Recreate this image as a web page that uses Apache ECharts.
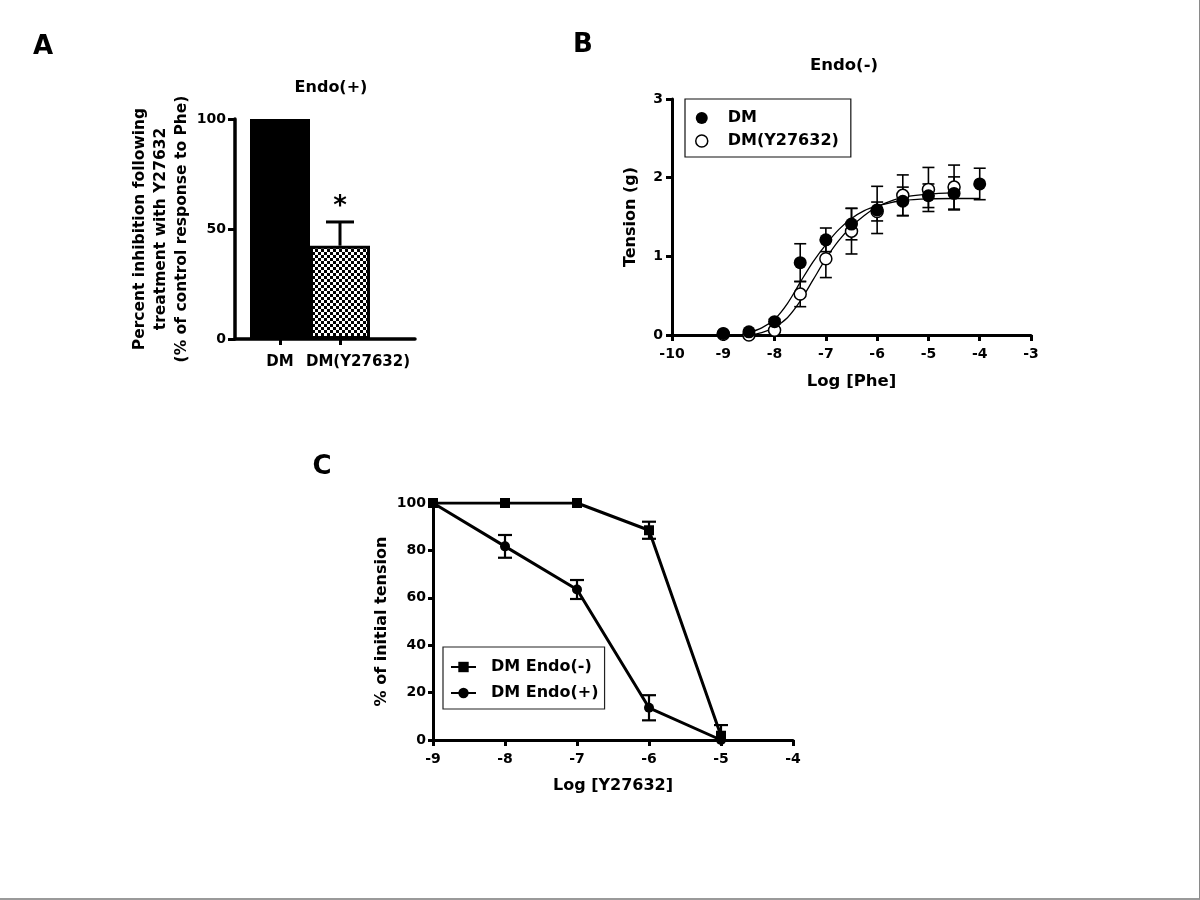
<!DOCTYPE html>
<html>
<head>
<meta charset="utf-8">
<script src="https://cdn.jsdelivr.net/npm/echarts@6/dist/echarts.min.js"></script>
<style>
html,body{margin:0;padding:0;background:#fff;}
#frame{position:absolute;left:0;top:0;width:1200px;height:900px;box-sizing:border-box;border-right:1px solid #8a8a8a;border-bottom:2px solid #9a9a9a;}
#c{position:absolute;left:0;top:0;width:1199px;height:898px;}
</style>
</head>
<body>
<div id="frame"><div id="c"></div></div>
<script>
// ---------- Panel A data ----------
const barCategories = ['DM', 'DM(Y27632)'];
const barValues = [100, 42.4];
const barErrors = [0, 10.8];
const barSignificance = ['', '*'];

// ---------- Panel B data (Log [Phe] vs tension, g) ----------
const pheDoseDM = [-9, -8.5, -8, -7.5, -7, -6.5, -6, -5.5, -5, -4.5, -4];
const tensionDM = [0.02, 0.04, 0.17, 0.92, 1.21, 1.41, 1.59, 1.70, 1.77, 1.80, 1.92];
const tensionDMErr = [0.01, 0.02, 0.03, 0.24, 0.15, 0.20, 0.30, 0.18, 0.15, 0.21, 0.20];
const pheDoseY = [-9, -8.5, -8, -7.5, -7, -6.5, -6, -5.5, -5, -4.5];
const tensionY = [0.01, 0.00, 0.06, 0.52, 0.97, 1.32, 1.57, 1.775, 1.85, 1.88];
const tensionYErr = [0.01, 0.01, 0.02, 0.16, 0.24, 0.29, 0.12, 0.26, 0.28, 0.28];
// fitted curves
const fitDoseDM = [-8.5, -8.25, -8, -7.75, -7.5, -7.25, -7, -6.75, -6.5, -6.25, -6, -5.75, -5.5, -5, -4.5, -4];
const fitDM = [0.03, 0.09, 0.20, 0.40, 0.67, 0.93, 1.15, 1.34, 1.48, 1.58, 1.64, 1.68, 1.71, 1.73, 1.735, 1.735];
const fitDoseY = [-8.5, -8.25, -8, -7.75, -7.5, -7.25, -7, -6.75, -6.5, -6.25, -6, -5.75, -5.5, -5, -4.5];
const fitY = [0.00, 0.03, 0.10, 0.22, 0.43, 0.70, 0.97, 1.20, 1.38, 1.52, 1.63, 1.70, 1.75, 1.79, 1.81];

// ---------- Panel C data (Log [Y27632] vs % of initial tension) ----------
const y27Dose = [-9, -8, -7, -6, -5];
const endoMinus = [100, 100, 100, 88.5, 1.8];
const endoMinusErr = [0, 0, 0, 3.6, 4.5];
const endoPlus = [100, 81.7, 63.5, 13.6, 0];
const endoPlusErr = [0, 4.8, 4.0, 5.3, 0];

const FONT = 'DejaVu Sans';
const zip = (xs, ys) => xs.map((x, i) => [x, ys[i]]);
const zip3 = (xs, ys, es) => xs.map((x, i) => [x, ys[i], es[i]]);

// checkerboard fill for the treated bar
const pat = document.createElement('canvas');
pat.width = 6; pat.height = 6;
const pg = pat.getContext('2d');
pg.fillStyle = '#fff'; pg.fillRect(0, 0, 6, 6);
pg.fillStyle = '#000'; pg.fillRect(0, 0, 3, 3); pg.fillRect(3, 3, 3, 3);

function errorBars(capHalf, lw, upperOnly, marks) {
  return function (params, api) {
    const x = api.value(0), y = api.value(1), e = api.value(2);
    const children = [];
    const st = { stroke: '#000', lineWidth: lw };
    const top = api.coord([x, y + e]);
    if (e > 0) {
      const bot = api.coord([x, upperOnly ? y : y - e]);
      children.push({ type: 'line', shape: { x1: top[0], y1: top[1], x2: bot[0], y2: bot[1] }, style: st });
      children.push({ type: 'line', shape: { x1: top[0] - capHalf, y1: top[1], x2: top[0] + capHalf, y2: top[1] }, style: st });
      if (!upperOnly) {
        children.push({ type: 'line', shape: { x1: bot[0] - capHalf, y1: bot[1], x2: bot[0] + capHalf, y2: bot[1] }, style: st });
      }
    }
    if (marks && marks[params.dataIndex]) {
      children.push({ type: 'text', x: top[0], y: top[1] - 2,
        style: { text: marks[params.dataIndex], fontSize: 26, fontWeight: 'bold', fontFamily: FONT,
                 fill: '#000', align: 'center', verticalAlign: 'bottom' } });
    }
    return { type: 'group', children };
  };
}

const lbl = (size, margin) => ({ show: true, color: '#000', fontFamily: FONT, fontWeight: 'bold', fontSize: size, margin: margin });
const line = w => ({ show: true, onZero: false, lineStyle: { color: '#000', width: w } });
const tick = (len, w) => ({ show: true, inside: false, length: len, lineStyle: { color: '#000', width: w } });
const nameStyle = (size) => ({ color: '#000', fontFamily: FONT, fontWeight: 'bold', fontSize: size });

const chart = echarts.init(document.getElementById('c'), null, { renderer: 'canvas' });

const option = {
  animation: false,
  backgroundColor: '#fff',
  textStyle: { fontFamily: FONT },
  graphic: [
    { type: 'text', x: 43, y: 47, style: { text: 'A', fontSize: 26, fontWeight: 'bold', fontFamily: FONT, fill: '#000', align: 'center', verticalAlign: 'middle' } },
    { type: 'text', x: 583, y: 45, style: { text: 'B', fontSize: 26, fontWeight: 'bold', fontFamily: FONT, fill: '#000', align: 'center', verticalAlign: 'middle' } },
    { type: 'text', x: 322, y: 467, style: { text: 'C', fontSize: 26, fontWeight: 'bold', fontFamily: FONT, fill: '#000', align: 'center', verticalAlign: 'middle' } },
    { type: 'text', x: 331, y: 88, style: { text: 'Endo(+)', fontSize: 16, fontWeight: 'bold', fontFamily: FONT, fill: '#000', align: 'center', verticalAlign: 'middle' } },
    { type: 'text', x: 844, y: 66, style: { text: 'Endo(-)', fontSize: 16.5, fontWeight: 'bold', fontFamily: FONT, fill: '#000', align: 'center', verticalAlign: 'middle' } }
  ],
  grid: [
    { left: 250, top: 119, width: 120, height: 220, outerBoundsMode: 'none' },
    { left: 235, top: 119, width: 180, height: 220, outerBoundsMode: 'none' },
    { left: 672, top: 99, width: 359, height: 236, outerBoundsMode: 'none' },
    { left: 433, top: 503, width: 360, height: 237, outerBoundsMode: 'none' }
  ],
  xAxis: [
    { gridIndex: 0, type: 'category', boundaryGap: true,
      data: barCategories.map((c, i) => i === 1 ? { value: c, textStyle: { padding: [0, 0, 0, 36] } } : c),
      axisLine: { show: false }, axisTick: Object.assign(tick(6, 3), { alignWithLabel: true, interval: 0 }),
      axisLabel: Object.assign(lbl(15, 16), { interval: 0, hideOverlap: false }), splitLine: { show: false } },
    { gridIndex: 1, type: 'value', min: 0, max: 1, axisLine: line(3.5), axisTick: { show: false },
      axisLabel: { show: false }, splitLine: { show: false } },
    { gridIndex: 2, type: 'value', min: -10, max: -3, interval: 1, axisLine: line(3), axisTick: tick(6, 3),
      axisLabel: lbl(14, 12), splitLine: { show: false },
      name: 'Log [Phe]', nameLocation: 'middle', nameGap: 38, nameTextStyle: nameStyle(16.5) },
    { gridIndex: 3, type: 'value', min: -9, max: -4, interval: 1, axisLine: line(3), axisTick: tick(6, 3),
      axisLabel: lbl(14, 12), splitLine: { show: false },
      name: 'Log [Y27632]', nameLocation: 'middle', nameGap: 38, nameTextStyle: nameStyle(16) }
  ],
  yAxis: [
    { gridIndex: 0, type: 'value', min: 0, max: 100, interval: 50, offset: 15,
      axisLine: line(3.5), axisTick: tick(7, 3), axisLabel: lbl(14, 9), splitLine: { show: false },
      name: 'Percent inhibition following\ntreatment with Y27632\n(% of control response to Phe)',
      nameLocation: 'middle', nameGap: 32,
      nameTextStyle: Object.assign(nameStyle(15.5), { lineHeight: 21 }) },
    { gridIndex: 1, type: 'value', min: 0, max: 1, show: false },
    { gridIndex: 2, type: 'value', min: 0, max: 3, interval: 1, axisLine: line(3), axisTick: tick(6, 3),
      axisLabel: lbl(14, 9), splitLine: { show: false },
      name: 'Tension (g)', nameLocation: 'middle', nameGap: 33, nameTextStyle: nameStyle(16) },
    { gridIndex: 3, type: 'value', min: 0, max: 100, interval: 20, axisLine: line(3), axisTick: tick(5, 3),
      axisLabel: lbl(14, 7), splitLine: { show: false },
      name: '% of initial tension', nameLocation: 'middle', nameGap: 43, nameTextStyle: nameStyle(16) }
  ],
  legend: [
    { show: true, orient: 'vertical', left: 685, top: 99, padding: [11, 12, 8, 10], itemGap: 7,
      itemWidth: 30, itemHeight: 12, borderColor: '#111', borderWidth: 1.2, backgroundColor: '#fff',
      selectedMode: false, textStyle: { color: '#000', fontFamily: FONT, fontWeight: 'bold', fontSize: 16, padding: [0, 0, 0, 6] },
      data: [
        { name: 'DM', icon: 'circle', itemStyle: { color: '#000', borderWidth: 0, opacity: 1 } },
        { name: 'DM(Y27632)', icon: 'circle', itemStyle: { color: '#fff', borderColor: '#000', borderWidth: 1.5, opacity: 1 } }
      ] },
    { show: true, orient: 'vertical', left: 443, top: 647, padding: [12, 6, 8, 7], itemGap: 10,
      itemWidth: 25, itemHeight: 13, borderColor: '#222', borderWidth: 1.2, backgroundColor: '#fff',
      selectedMode: false, textStyle: { color: '#000', fontFamily: FONT, fontWeight: 'bold', fontSize: 16, padding: [0, 0, 0, 10] },
      data: ['DM Endo(-)', 'DM Endo(+)'] }
  ],
  series: [
    // Panel A
    { type: 'bar', name: 'A bars', xAxisIndex: 0, yAxisIndex: 0, barWidth: '100%', barGap: '0%',
      data: barValues.map((v, i) => ({ value: v, itemStyle: i === 0
        ? { color: '#000' }
        : { color: { image: pat, repeat: 'repeat' }, borderColor: '#000', borderWidth: 3 } })) },
    { type: 'custom', name: 'A err', xAxisIndex: 0, yAxisIndex: 0, z: 5,
      renderItem: errorBars(14, 3, true, barSignificance),
      data: barCategories.map((c, i) => [i, barValues[i], barErrors[i]]) },
    // Panel B
    { type: 'line', name: 'DM fit', xAxisIndex: 2, yAxisIndex: 2, smooth: 0.3, symbol: 'none',
      lineStyle: { color: '#000', width: 1.3 }, data: zip(fitDoseDM, fitDM), z: 1 },
    { type: 'line', name: 'DM(Y27632) fit', xAxisIndex: 2, yAxisIndex: 2, smooth: 0.3, symbol: 'none',
      lineStyle: { color: '#000', width: 1.3 }, data: zip(fitDoseY, fitY), z: 1 },
    { type: 'custom', name: 'B err Y', xAxisIndex: 2, yAxisIndex: 2, z: 2,
      renderItem: errorBars(6, 1.6, false), data: zip3(pheDoseY, tensionY, tensionYErr) },
    { type: 'custom', name: 'B err DM', xAxisIndex: 2, yAxisIndex: 2, z: 2,
      renderItem: errorBars(6, 1.6, false), data: zip3(pheDoseDM, tensionDM, tensionDMErr) },
    { type: 'scatter', name: 'DM(Y27632)', xAxisIndex: 2, yAxisIndex: 2, symbol: 'circle', symbolSize: 12, z: 3,
      itemStyle: { color: '#fff', borderColor: '#000', borderWidth: 1.5, opacity: 1 }, data: zip(pheDoseY, tensionY) },
    { type: 'scatter', name: 'DM', xAxisIndex: 2, yAxisIndex: 2, symbol: 'circle', symbolSize: 13, z: 4,
      itemStyle: { color: '#000', opacity: 1 }, data: zip(pheDoseDM, tensionDM) },
    // Panel C
    { type: 'custom', name: 'C err plus', xAxisIndex: 3, yAxisIndex: 3, z: 2, clip: true,
      renderItem: errorBars(7, 2.2, false), data: zip3(y27Dose, endoPlus, endoPlusErr) },
    { type: 'custom', name: 'C err minus', xAxisIndex: 3, yAxisIndex: 3, z: 2, clip: true,
      renderItem: errorBars(7, 2.2, false), data: zip3(y27Dose, endoMinus, endoMinusErr) },
    { type: 'line', name: 'DM Endo(+)', xAxisIndex: 3, yAxisIndex: 3, symbol: 'circle', symbolSize: 10, z: 3,
      lineStyle: { color: '#000', width: 3 }, itemStyle: { color: '#000', opacity: 1 }, data: zip(y27Dose, endoPlus) },
    { type: 'line', name: 'DM Endo(-)', xAxisIndex: 3, yAxisIndex: 3, symbol: 'rect', symbolSize: 10, z: 4,
      lineStyle: { color: '#000', width: 3 }, itemStyle: { color: '#000', opacity: 1 }, data: zip(y27Dose, endoMinus) }
  ]
};
chart.setOption(option);
</script>
</body>
</html>
